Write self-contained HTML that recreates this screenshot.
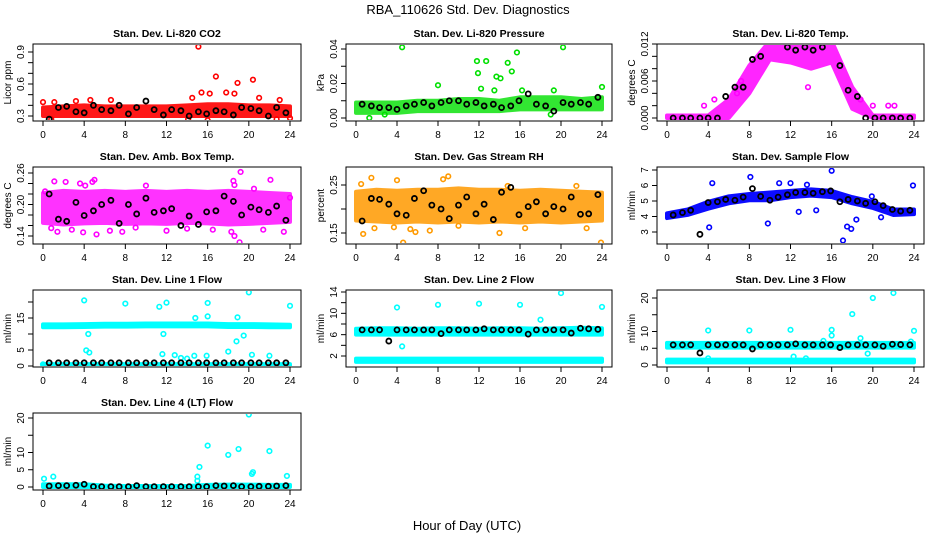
<!DOCTYPE html>
<html><head><meta charset="utf-8"><style>
html,body{margin:0;padding:0;background:#fff;}
svg{display:block;font-family:"Liberation Sans",sans-serif;}
</style></head><body>
<svg id="c" width="936" height="540" viewBox="0 0 936 540">
<text x="468" y="14" text-anchor="middle" font-size="13">RBA_110626  Std. Dev. Diagnostics</text>
<text x="467" y="530" text-anchor="middle" font-size="13">Hour of Day (UTC)</text>
</svg>
<script>
const BAND_H=[0,2,4,6,8,10,12,14,16,18,20,22,24];
const BH=[0.6,1.5,2.3,3.2,4,4.9,5.7,6.6,7.4,8.3,9.1,10,10.8,11.7,12.5,13.4,14.2,15.1,15.9,16.8,17.6,18.5,19.3,20.2,21,21.9,22.7,23.6];
const X_TICKS=[0,4,8,12,16,20,24];

// Panel 1 CO2
const co2Lo=[0.30,0.30,0.30,0.30,0.30,0.30,0.30,0.30,0.30,0.30,0.30,0.30,0.30];
const co2Hi=[0.38,0.39,0.40,0.39,0.39,0.39,0.39,0.40,0.41,0.41,0.40,0.40,0.39];
const co2Out=[[0,0.43],[1.1,0.43],[3.2,0.44],[15.1,0.95],[16.8,0.67],[18.9,0.61],[20.4,0.64],[15.4,0.52],[16.2,0.51],[17.8,0.52],[18.6,0.51],[14.5,0.47],[21,0.47],[23,0.45],[16,0.26],[24,0.28],[14.1,0.27],[22.7,0.27],[0.8,0.27],[4.6,0.45],[6.6,0.45]];
const co2Blk=[0.27,0.38,0.39,0.34,0.33,0.40,0.36,0.35,0.40,0.32,0.38,0.44,0.36,0.31,0.36,0.35,0.30,0.34,0.32,0.35,0.34,0.31,0.38,0.37,0.35,0.30,0.38,0.33];
// Panel 2 pressure
const prLo=[0.003,0.003,0.003,0.004,0.004,0.004,0.004,0.004,0.005,0.005,0.005,0.005,0.005];
const prHi=[0.009,0.009,0.009,0.010,0.010,0.011,0.011,0.010,0.012,0.012,0.012,0.011,0.012];
const prOut=[[4.5,0.041],[20.2,0.041],[11.8,0.033],[12.7,0.033],[14.8,0.032],[15.7,0.038],[15.2,0.027],[11.9,0.026],[13.7,0.024],[14.1,0.023],[8,0.019],[12.2,0.017],[13.5,0.016],[16.2,0.016],[19.3,0.016],[24,0.018],[1.3,0.000],[2.8,0.002],[19,0.002]];
const prBlk=[0.008,0.007,0.006,0.006,0.005,0.007,0.008,0.009,0.007,0.009,0.010,0.010,0.008,0.009,0.007,0.008,0.006,0.007,0.010,0.014,0.008,0.007,0.004,0.009,0.008,0.009,0.008,0.012];
// Panel 3 temp
const tLo=[0,0,0,0,0.004,0.0095,0.009,0.008,0.009,0.0015,0,0,0];
const tHi=[0.0004,0.0004,0.0004,0.003,0.0085,0.0125,0.0125,0.0115,0.0125,0.005,0.0004,0.0004,0.0004];
const tOut=[[3.6,0.002],[4.6,0.003],[20,0.002],[21.5,0.002],[22.1,0.002],[18.8,0.003],[13.7,0.005],[6.8,0.004],[7.2,0.006]];
const tBlk=[0,0,0,0,0,0,0.0035,0.005,0.005,0.0095,0.010,0.0125,0.0125,0.0115,0.011,0.0115,0.011,0.0115,0.0125,0.0085,0.0045,0.0035,0,0,0,0,0,0];
// Panel 4 amb box temp
const aLo=[0.165,0.162,0.164,0.165,0.163,0.164,0.163,0.165,0.164,0.162,0.163,0.165,0.167];
const aHi=[0.222,0.226,0.224,0.226,0.224,0.226,0.224,0.226,0.224,0.226,0.224,0.222,0.220];
const aOut=[[0.2,0.225],[1.1,0.244],[2.2,0.243],[3.6,0.240],[4.1,0.236],[5,0.247],[4.8,0.243],[1.4,0.148],[3.9,0.147],[5.2,0.143],[6.5,0.150],[7.7,0.148],[12,0.150],[16.5,0.152],[18.3,0.148],[18.6,0.140],[19.1,0.128],[19.2,0.262],[18.5,0.245],[18.6,0.237],[22.1,0.247],[23.4,0.148],[24,0.213],[20.5,0.230],[10,0.236],[0.8,0.155],[2.8,0.152],[9,0.156],[14,0.154],[21.4,0.152]];
const aBlk=[0.220,0.172,0.168,0.204,0.179,0.188,0.200,0.208,0.164,0.200,0.182,0.212,0.185,0.188,0.192,0.160,0.178,0.162,0.186,0.188,0.216,0.206,0.180,0.195,0.190,0.185,0.197,0.170];
// Panel 5 RH
const rhLo=[0.176,0.174,0.172,0.174,0.172,0.174,0.172,0.174,0.172,0.174,0.172,0.174,0.176];
const rhHi=[0.236,0.240,0.238,0.240,0.240,0.243,0.240,0.240,0.238,0.240,0.238,0.236,0.234];
const rhOut=[[0.5,0.252],[1.5,0.265],[4,0.26],[4.6,0.13],[0.7,0.148],[9,0.268],[8.5,0.262],[14,0.15],[14.8,0.248],[21.5,0.248],[22.5,0.16],[16.5,0.16],[1.8,0.16],[5.3,0.158],[5.8,0.152],[7.2,0.155],[3.7,0.162],[10,0.165],[23.9,0.13]];
const rhBlk=[0.175,0.222,0.220,0.210,0.190,0.187,0.222,0.238,0.208,0.200,0.180,0.208,0.225,0.190,0.210,0.178,0.235,0.245,0.188,0.205,0.215,0.190,0.205,0.200,0.225,0.189,0.190,0.230];
// Panel 6 sample flow
const sfLo=[3.9,4.1,4.5,4.85,5.05,5.05,5.25,5.35,5.25,4.85,4.55,4.1,4.15];
const sfHi=[4.2,4.45,4.95,5.3,5.45,5.55,5.65,5.75,5.65,5.25,4.95,4.45,4.45];
const sfOut=[[4.4,6.15],[8.1,6.55],[10.9,6.15],[12,6.15],[16,6.95],[13.6,6.05],[23.9,6.0],[4.1,3.3],[9.8,3.55],[17.1,2.45],[17.5,3.35],[17.9,3.2],[18.4,3.8],[12.8,4.3],[14.5,4.4],[20.8,3.95],[19.9,5.3]];
const sfBlk=[4.1,4.25,4.4,2.85,4.9,4.95,5.1,5.05,5.25,5.8,5.3,5.05,5.25,5.4,5.55,5.55,5.5,5.6,5.65,4.95,5.1,5.0,4.85,4.95,4.7,4.45,4.35,4.4];
// Panel 7 line 1
const l1Lo=[12.1,12.1,12.2,12.3,12.3,12.4,12.4,12.4,12.4,12.2,12.2,12.1,12.1];
const l1Hi=[13.0,13.0,13.1,13.2,13.2,13.3,13.3,13.3,13.3,13.1,13.1,13.0,12.9];
const l1Lo2=[0,0,0,0,0,0,0,0,0,0,0,0,0];
const l1Hi2=[0.6,0.6,0.6,0.6,0.6,0.6,0.6,0.6,0.6,0.6,0.6,0.6,0.6];
const l1Out=[[4,20.5],[8,19.5],[11.3,18.5],[12,19.8],[16,19.7],[20,23],[24,18.8],[16,15.5],[14.8,15.0],[18.9,15.2],[4.2,4.9],[4.5,4.2],[11.6,3.7],[12.8,3.4],[18,4.5],[20.3,3.5],[22,3.2],[18.8,7.7],[19.5,9.5],[11.7,10],[4.4,10],[0,0.5],[15.9,3.2],[14.7,3.2],[13.4,2.5],[14,2.3]];
const l1Blk=[1,1,1,1,1,1,1,1,1,1,1,1,1,1,1,1,1,1,1,1,1,1,1,1,1,1,1,1];
// Panel 8 line 2
const l2Lo=[6.0,6.0,6.0,6.0,6.0,6.0,6.0,6.0,6.0,6.0,6.0,6.0,6.0];
const l2Hi=[7.1,7.2,7.2,7.1,7.2,7.2,7.1,7.2,7.2,7.1,7.2,7.3,7.2];
const l2Lo2=[0.9,0.9,0.9,0.9,0.9,0.9,0.9,0.9,0.9,0.9,0.9,0.9,0.9];
const l2Hi2=[1.5,1.5,1.5,1.5,1.5,1.5,1.5,1.5,1.5,1.5,1.5,1.5,1.5];
const l2Out=[[4,11.1],[8,11.6],[12,11.8],[16,11.6],[20,13.8],[24,11.2],[18,8.8],[4.5,3.8]];
const l2Blk=[6.9,6.9,6.9,4.8,6.9,6.9,6.9,6.9,6.9,6.2,6.9,6.9,6.9,6.9,7.1,6.9,6.9,6.9,6.9,6.1,6.9,6.9,6.9,6.9,6.3,7.2,7.1,7.0];
// Panel 9 line 3
const l3Lo=[5.2,5.2,5.2,5.2,5.2,5.2,5.2,5.2,5.2,5.2,5.2,5.2,5.2];
const l3Hi=[6.6,6.6,6.6,6.6,6.6,6.6,6.6,6.6,6.6,6.6,6.6,6.6,6.6];
const l3Lo2=[0.8,0.8,0.8,0.8,0.8,0.8,0.8,0.8,0.8,0.8,0.8,0.8,0.8];
const l3Hi2=[1.6,1.6,1.6,1.6,1.6,1.6,1.6,1.6,1.6,1.6,1.6,1.6,1.6];
const l3Out=[[4,10.3],[8,10.3],[12,10.5],[16,10.5],[18,15.2],[20,20],[22,21.5],[24,10.2],[19.5,3.4],[18.8,8],[16,8.8],[15.2,7.2],[23.7,7],[4,2],[12.3,2.5],[13.5,2]];
const l3Blk=[6,6,6,3.6,6,6,6,6,6,4.8,6,6,6,6,6.3,6,6,6,6,5.2,6,6,6,6,5.6,6.2,6.1,6];
// Panel 10 line 4
const l4Lo=[0,0,0,0,0,0,0,0,0,0,0,0,0];
const l4Hi=[0.8,0.8,0.8,0.4,0.3,0.3,0.3,0.3,0.6,0.7,0.7,0.6,0.6];
const l4Out=[[0.1,2.4],[1,3],[15,3],[15,1.8],[15.2,5.8],[16,12],[18,9.3],[19,11],[20,21],[20.3,3.8],[20.4,4.3],[22,10.4],[23.7,3.2]];
const l4Blk=[0.3,0.4,0.4,0.5,0.8,0.1,0.1,0.1,0.1,0.1,0.4,0.1,0.1,0.1,0.1,0.1,0.1,0.1,0.1,0.4,0.3,0.4,0.1,0.1,0.2,0.2,0.3,0.4];

const COLS=[{x0:43,x24:290,l:33,r:301},{x0:356,x24:602,l:346,r:612},{x0:667,x24:914,l:657,r:924}];
const ROWS=[{t:44,b:121},{t:167,b:244},{t:290,b:367},{t:413,b:490}];
const panels=[
 {name:'co2',title:'Stan. Dev. Li-820 CO2',ylab:'Licor ppm',c:0,r:0,cal:[0.3,116,0.9,52],ticks:[0.3,0.4,0.5,0.6,0.7,0.8,0.9],labs:['0.3','0.6','0.9'],col:'#ff0000',op:0.9,lo:co2Lo,hi:co2Hi,out:co2Out,blk:co2Blk},
 {name:'pressure',title:'Stan. Dev. Li-820 Pressure',ylab:'kPa',c:1,r:0,cal:[0,118,0.04,49],ticks:[0,0.01,0.02,0.03,0.04],labs:['0.00','0.02','0.04'],col:'#00e000',op:0.8,lo:prLo,hi:prHi,out:prOut,blk:prBlk},
 {name:'li820-temp',title:'Stan. Dev. Li-820 Temp.',ylab:'degrees C',c:2,r:0,cal:[0,118,0.012,44],ticks:[0,0.002,0.004,0.006,0.008,0.01,0.012],labs:['0.000','0.006','0.012'],col:'#ff00ff',op:0.85,lo:tLo,hi:tHi,out:tOut,blk:tBlk},
 {name:'amb-box-temp',title:'Stan. Dev. Amb. Box Temp.',ylab:'degrees C',c:0,r:1,cal:[0.14,236,0.26,173],ticks:[0.14,0.16,0.18,0.2,0.22,0.24,0.26],labs:['0.14','0.20','0.26'],col:'#ff00ff',op:0.8,lo:aLo,hi:aHi,out:aOut,blk:aBlk},
 {name:'gas-stream-rh',title:'Stan. Dev. Gas Stream RH',ylab:'percent',c:1,r:1,cal:[0.15,233,0.25,185],ticks:[0.15,0.2,0.25],labs:['0.15','0.25'],col:'#ff9a00',op:0.85,lo:rhLo,hi:rhHi,out:rhOut,blk:rhBlk},
 {name:'sample-flow',title:'Stan. Dev. Sample Flow',ylab:'ml/min',c:2,r:1,cal:[3,232,7,170],ticks:[3,4,5,6,7],labs:['3','4','5','6','7'],col:'#0000ff',op:0.95,lo:sfLo,hi:sfHi,out:sfOut,blk:sfBlk},
 {name:'line1-flow',title:'Stan. Dev. Line 1 Flow',ylab:'ml/min',c:0,r:2,cal:[0,366,15,318],ticks:[0,5,10,15,20],labs:['0','5','15'],col:'#00ffff',op:1,lo:l1Lo,hi:l1Hi,lo2:l1Lo2,hi2:l1Hi2,out:l1Out,blk:l1Blk},
 {name:'line2-flow',title:'Stan. Dev. Line 2 Flow',ylab:'ml/min',c:1,r:2,cal:[2,356,14,292],ticks:[2,4,6,8,10,12,14],labs:['2','6','10','14'],col:'#00ffff',op:1,lo:l2Lo,hi:l2Hi,lo2:l2Lo2,hi2:l2Hi2,out:l2Out,blk:l2Blk},
 {name:'line3-flow',title:'Stan. Dev. Line 3 Flow',ylab:'ml/min',c:2,r:2,cal:[0,365,20,298],ticks:[0,5,10,15,20],labs:['0','5','10','20'],col:'#00ffff',op:1,lo:l3Lo,hi:l3Hi,lo2:l3Lo2,hi2:l3Hi2,out:l3Out,blk:l3Blk},
 {name:'line4-flow',title:'Stan. Dev. Line 4 (LT) Flow',ylab:'ml/min',c:0,r:3,cal:[0,487,20,418],ticks:[0,5,10,15,20],labs:['0','5','10','20'],col:'#00ffff',op:1,lo:l4Lo,hi:l4Hi,out:l4Out,blk:l4Blk}
];
const NS='http://www.w3.org/2000/svg';
const svg=document.getElementById('c');
function mk(tag,attrs,parent){const e=document.createElementNS(NS,tag);for(const k in attrs)e.setAttribute(k,attrs[k]);(parent||svg).appendChild(e);return e;}
panels.forEach(p=>{
 const C=COLS[p.c],R=ROWS[p.r];
 const sx=h=>C.x0+h/24*(C.x24-C.x0);
 const sy=v=>p.cal[1]+(v-p.cal[0])/(p.cal[2]-p.cal[0])*(p.cal[3]-p.cal[1]);
 const g=mk('g',{});
 
 
 const clipId='cl'+p.name;
 const cp=mk('clipPath',{id:clipId},g);mk('rect',{x:C.l+1,y:R.t+1,width:C.r-C.l-2,height:R.b-R.t-2},cp);
 const plot=mk('g',{'clip-path':'url(#'+clipId+')'},g);
 function band(lo,hi,nm){
  let pts=BAND_H.map((h,i)=>sx(h)+','+sy(hi[i]));
  for(let i=BAND_H.length-1;i>=0;i--)pts.push(sx(BAND_H[i])+','+sy(lo[i]));
  const b=mk('polygon',{points:pts.join(' '),fill:p.col,stroke:p.col,'stroke-width':4,'stroke-linejoin':'round',opacity:p.op},plot);
  
  
 }
 band(p.lo,p.hi,p.name+'-band');
 if(p.lo2)band(p.lo2,p.hi2,p.name+'-low-band');
 p.out.forEach(d=>{
  const o=mk('circle',{cx:sx(d[0]),cy:sy(d[1]),r:2.3,fill:'none',stroke:p.col,'stroke-width':1.6},plot);
  
  
 });
 p.blk.forEach((v,i)=>{
  const o=mk('circle',{cx:sx(BH[i]),cy:sy(v),r:2.5,fill:'none',stroke:'#000','stroke-width':1.8},plot);
  
  
 });
 const box=mk('rect',{x:C.l,y:R.t,width:C.r-C.l,height:R.b-R.t,fill:'none',stroke:'#000','stroke-width':1},g);
 
 
 const tt=mk('text',{x:(C.l+C.r)/2,y:R.t-7,'text-anchor':'middle','font-size':10.5,'font-weight':'bold'},g);
 tt.textContent=p.title;
 
 
 mk('line',{x1:sx(0),x2:sx(24),y1:R.b,y2:R.b,stroke:'#000'},g);
 X_TICKS.forEach(h=>{
  mk('line',{x1:sx(h),x2:sx(h),y1:R.b,y2:R.b+5,stroke:'#000'},g);
  const t=mk('text',{x:sx(h),y:R.b+17,'text-anchor':'middle','font-size':10},g);
  t.textContent=String(h);
  
  
 });
 mk('line',{x1:C.l,x2:C.l,y1:sy(p.ticks[0]),y2:sy(p.ticks[p.ticks.length-1]),stroke:'#000'},g);
 p.ticks.forEach(v=>mk('line',{x1:C.l-5,x2:C.l,y1:sy(v),y2:sy(v),stroke:'#000'},g));
 p.labs.forEach(s=>{
  const y=sy(parseFloat(s));
  const t=mk('text',{x:C.l-9,y:y,'text-anchor':'middle','font-size':10,transform:'rotate(-90 '+(C.l-9)+' '+y+')'},g);
  t.textContent=s;
  
  
 });
 const ym=(R.t+R.b)/2;
 const yl=mk('text',{x:C.l-22,y:ym,'text-anchor':'middle','font-size':10,transform:'rotate(-90 '+(C.l-22)+' '+ym+')'},g);
 yl.textContent=p.ylab;
 
 
});
</script>
</body></html>
